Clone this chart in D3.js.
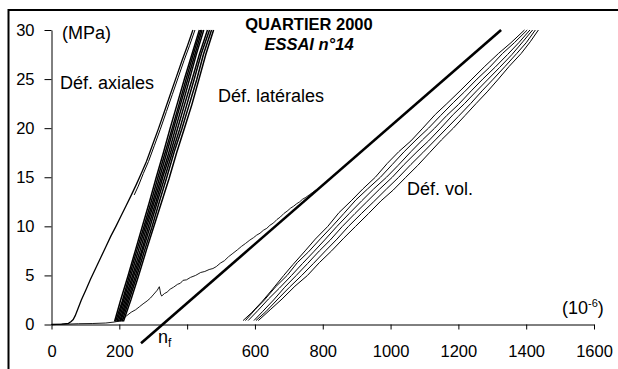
<!DOCTYPE html>
<html><head><meta charset="utf-8">
<script src="https://cdn.jsdelivr.net/npm/d3@7"></script>
<style>
html,body{margin:0;padding:0;background:#fff;}
svg{display:block;font-family:"Liberation Sans",Arial,Helvetica,sans-serif;}
</style></head><body>
<svg id="chart" width="618" height="369"></svg>
<script>
// ---- data (strain in 1e-6, stress in MPa) ----
const xTicks = [0,200,400,600,800,1000,1200,1400,1600];
const xTickLabels = ["0","200","","600","800","1000","1200","1400","1600"];
const yTicks = [0,5,10,15,20,25,30];

const axialFirst = [[0,0],[30,0.03],[50,0.12],[58,0.3],[64,0.5],[70,0.9],[78,1.6],[88,2.5],[101,3.5],[115,4.6],[130,5.7],[145,6.8],[160,7.9],[175,9.0],[190,10.0],[205,11.05],[220,12.1],[235,13.15],[250,14.25],[265,15.4],[280,16.6],[297,18.2],[315,19.9],[333,21.7],[350,23.4],[368,25.2],[385,26.9],[401,28.4],[417,30]];
const axialSecond = [[244,13.2],[256,14.1],[271,15.4],[286,16.6],[303,18.2],[321,19.9],[339,21.7],[356,23.4],[374,25.2],[391,26.9],[407,28.4],[423,30]];

const cycle1 = [[186,0.3],[204,2.5],[226,5],[247,7.5],[268,10],[289,12.5],[309,15],[330,17.5],[350,20],[371,22.5],[392,25],[414,27.5],[436,30]];
const cycle2 = [[189,0.3],[209,2.4],[230,5],[252,7.6],[273,10],[294,12.5],[314,15],[336,17.6],[356,20],[376,22.4],[397,25],[418,27.5],[440,30]];
const cycle3 = [[193,0.3],[213,2.5],[235,5.1],[256,7.5],[277,10],[298,12.4],[319,15],[340,17.5],[361,20.1],[381,22.5],[402,25],[422,27.4],[444,30]];
const cycle4 = [[197,0.3],[217,2.5],[239,5],[261,7.5],[282,10.1],[303,12.5],[324,15],[345,17.4],[366,20],[387,22.5],[408,25.1],[427,27.5],[449,30]];
const cycle5 = [[201,0.3],[221,2.5],[243,5],[265,7.4],[286,10],[308,12.5],[329,15.1],[351,17.5],[372,20],[394,22.6],[415,25],[436,27.5],[460,30]];
const cycle6 = [[204,0.3],[225,2.5],[247,4.9],[269,7.5],[291,10],[313,12.6],[334,15],[356,17.5],[378,19.9],[400,22.5],[421,25],[442,27.6],[466,30]];
const cycle7 = [[208,0.3],[229,2.5],[252,5],[274,7.5],[296,9.9],[318,12.5],[340,15],[362,17.6],[385,20],[407,22.5],[428,24.9],[448,27.5],[472,30]];
const cycle8 = [[212,0.3],[234,2.5],[257,5],[280,7.6],[302,10],[325,12.5],[347,14.9],[369,17.5],[392,20],[414,22.4],[435,25],[455,27.5],[478,30]];

const firstLoad = [[0,0],[40,0.03],[80,0.08],[120,0.1],[160,0.15],[185,0.25],[200,0.35],[210,0.55],[222,0.9],[235,1.25],[248,1.5],[259,1.8],[270,2.1],[282,2.4],[292,2.7],[302,3.1],[312,3.5],[318,3.85],[320,3.5],[322,3.1],[325,2.9],[333,3.15],[341,3.3],[350,3.6],[360,3.8],[372,4.1],[380,4.2],[388,4.5],[398,4.55],[410,4.8],[425,5.0],[440,5.3],[452,5.4],[465,5.6],[476,5.7],[486,5.9],[498,6.25],[510,6.5],[522,6.9],[535,7.25],[548,7.6],[560,7.95],[572,8.25],[585,8.6],[596,8.85],[605,9.1],[615,9.3],[625,9.6],[635,9.8],[644,10.1],[655,10.35],[665,10.7],[675,10.95],[685,11.3],[695,11.55],[705,11.85],[714,12.05],[723,12.3],[732,12.5],[740,12.75],[750,12.95],[760,13.2],[770,13.45],[780,13.7]];

const nfLine = [[264,-1.9],[1326,30]];

const vol1 = [[565,0.4],[590,1.2],[620,2.3],[652,3.6],[685,5.0],[712,6.1],[748,7.5],[778,8.7],[815,10.0],[848,11.4],[884,12.6],[918,13.8],[955,15.0],[990,16.4],[1024,17.6],[1060,18.7],[1095,20.0],[1132,21.4],[1166,22.5],[1205,23.8],[1240,25.0],[1278,26.3],[1318,27.6],[1355,28.7],[1395,30.0]];
const vol2 = [[572,0.4],[600,1.5],[628,2.5],[660,3.8],[695,5.0],[725,6.3],[758,7.4],[795,8.8],[828,10.0],[862,11.3],[898,12.7],[932,13.8],[970,15.0],[1005,16.3],[1040,17.6],[1075,18.8],[1112,20.0],[1148,21.3],[1185,22.6],[1218,23.7],[1255,25.0],[1292,26.2],[1330,27.6],[1365,28.7],[1403,30.0]];
const vol3 = [[580,0.4],[608,1.4],[640,2.6],[672,3.7],[708,5.0],[740,6.2],[773,7.4],[808,8.7],[842,10.0],[878,11.3],[915,12.6],[950,13.8],[988,15.0],[1022,16.2],[1060,17.6],[1094,18.8],[1130,20.0],[1166,21.3],[1200,22.4],[1238,23.8],[1272,25.0],[1308,26.2],[1345,27.5],[1378,28.7],[1411,30.0]];
const vol4 = [[597,0.4],[622,1.3],[655,2.5],[688,3.8],[722,5.0],[755,6.2],[790,7.5],[822,8.6],[858,10.0],[895,11.3],[930,12.5],[968,13.8],[1005,15.0],[1040,16.3],[1078,17.6],[1112,18.7],[1148,20.0],[1185,21.4],[1218,22.5],[1254,23.8],[1288,25.0],[1322,26.2],[1358,27.5],[1390,28.8],[1419,30.0]];
const vol5 = [[603,0.4],[632,1.3],[668,2.6],[702,3.8],[738,5.0],[772,6.2],[808,7.5],[842,8.7],[876,10.0],[914,11.3],[950,12.5],[988,13.8],[1024,15.0],[1060,16.3],[1095,17.5],[1132,18.8],[1166,20.0],[1200,21.2],[1236,22.5],[1270,23.8],[1303,25.0],[1338,26.3],[1372,27.6],[1400,28.7],[1427,30.0]];
const vol6 = [[610,0.4],[645,1.5],[680,2.6],[718,3.9],[755,5.0],[790,6.3],[826,7.5],[862,8.8],[897,10.0],[935,11.3],[972,12.6],[1008,13.7],[1045,15.0],[1080,16.2],[1115,17.5],[1150,18.8],[1185,20.0],[1220,21.3],[1252,22.5],[1285,23.7],[1318,25.0],[1350,26.3],[1385,27.6],[1412,28.8],[1436,30.0]];

// ---- drawing ----
const svg = d3.select("#chart");
const x = d3.scaleLinear().domain([0,1600]).range([51.5,594]);
const y = d3.scaleLinear().domain([0,30]).range([324.5,30]);
const line = d3.line().x(d=>x(d[0])).y(d=>y(d[1]));

// frame (scan border)
svg.append("line").attr("x1",8).attr("x2",618).attr("y1",10).attr("y2",10).attr("stroke","#000").attr("stroke-width",2);
svg.append("line").attr("x1",8.5).attr("x2",8.5).attr("y1",9).attr("y2",369).attr("stroke","#000").attr("stroke-width",2);

// axes
const gx = svg.append("g").attr("transform",`translate(0,${y(0)})`)
  .call(d3.axisBottom(x).tickValues(xTicks).tickFormat((d,i)=>xTickLabels[i]).tickSize(5).tickSizeOuter(0).tickPadding(15.5));
const gy = svg.append("g").attr("transform",`translate(${x(0)},0)`)
  .call(d3.axisLeft(y).tickValues(yTicks).tickSize(7).tickSizeOuter(0).tickPadding(10));
[gx,gy].forEach(g=>{
  g.selectAll("path,line").attr("stroke","#000").attr("stroke-width",1);
  g.selectAll("text").attr("fill","#000").style("font-size","16.5px").style("font-family","'Liberation Sans',Arial,sans-serif");
});

// curves
const cycles = [cycle1,cycle2,cycle3,cycle4,cycle5,cycle6,cycle7,cycle8];
svg.append("g").selectAll("path").data(cycles).join("path")
  .attr("d",line).attr("fill","none").attr("stroke","#000").attr("stroke-width",1.5);
svg.append("path").datum(axialFirst).attr("d",line).attr("fill","none").attr("stroke","#000").attr("stroke-width",1.3);
svg.append("path").datum(axialSecond).attr("d",line).attr("fill","none").attr("stroke","#000").attr("stroke-width",1);
svg.append("path").datum(firstLoad).attr("d",line).attr("fill","none").attr("stroke","#000").attr("stroke-width",0.9);
svg.append("path").datum(nfLine).attr("d",line).attr("fill","none").attr("stroke","#000").attr("stroke-width",2.6);
const vols = [vol1,vol2,vol3,vol4,vol5,vol6];
svg.append("g").selectAll("path").data(vols).join("path")
  .attr("d",line).attr("fill","none").attr("stroke","#000").attr("stroke-width",1);

// texts
const t = (txt,px,py,opts={}) => svg.append("text").attr("x",px).attr("y",py).text(txt)
  .attr("fill","#000").style("font-size",(opts.size||18)+"px")
  .style("font-weight",opts.weight||"normal").style("font-style",opts.style||"normal")
  .attr("text-anchor",opts.anchor||"start");
t("QUARTIER 2000",309,29.5,{size:16.5,weight:"bold",anchor:"middle"});
t("ESSAI n°14",309,50,{size:16.5,weight:"bold",style:"italic",anchor:"middle"});
t("(MPa)",62,38.5);
t("Déf. axiales",60,89);
t("Déf. latérales",218,101.5);
t("Déf. vol.",407,194.5);

const unit = svg.append("text").attr("x",562).attr("y",313.5).attr("fill","#000").style("font-size","18px");
unit.append("tspan").text("(10");
unit.append("tspan").text("-6").style("font-size","11px").attr("dy",-7);
unit.append("tspan").text(")").attr("dy",7);

const nf = svg.append("text").attr("x",158).attr("y",343).attr("fill","#000").style("font-size","18px");
nf.append("tspan").text("n");
nf.append("tspan").text("f").style("font-size","12px").attr("dy",4);
</script>
</body></html>
